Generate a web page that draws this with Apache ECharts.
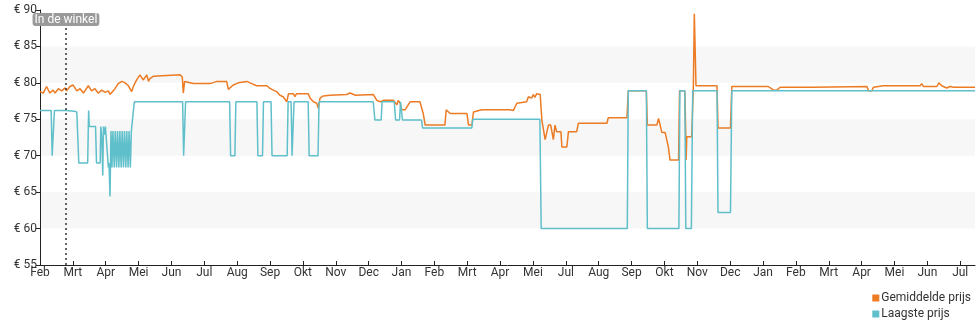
<!DOCTYPE html>
<html>
<head>
<meta charset="utf-8">
<script src="https://cdn.jsdelivr.net/npm/echarts@6/dist/echarts.min.js"></script>
<style>html,body{margin:0;padding:0;background:#fff}#c{width:980px;height:325px}</style>
</head>
<body>
<div id="c"></div>
<script>
// x values are in months counted from the first "Feb" tick
const monthLabels = ['Feb','Mrt','Apr','Mei','Jun','Jul','Aug','Sep','Okt','Nov','Dec','Jan','Feb','Mrt','Apr','Mei','Jul','Aug','Sep','Okt','Nov','Dec','Jan','Feb','Mrt','Apr','Mei','Jun','Jul'];
const yTicks = [55, 60, 65, 70, 75, 80, 85, 90];
const storeDate = 0.79;
const storeLabel = 'In de winkel';
const seriesNames = ['Gemiddelde prijs', 'Laagste prijs'];

const avgPrice = [
  [0,78.8],[0.05,78.8],[0.10,78.6],[0.20,79.5],[0.25,79.6],[0.30,78.6],[0.40,79.0],[0.46,78.6],[0.56,79.2],[0.66,78.9],
  [0.76,79.3],[0.81,78.9],[0.91,79.5],[1.01,79.7],[1.12,78.9],[1.22,79.2],[1.32,78.6],[1.47,79.6],[1.57,78.9],[1.67,79.2],
  [1.77,78.6],[1.88,79.0],[1.98,78.7],[2.08,78.9],[2.13,78.4],[2.23,78.9],[2.28,79.2],[2.38,79.9],[2.49,80.2],[2.59,80.0],
  [2.69,79.6],[2.79,78.8],[2.84,79.5],[2.94,80.4],[3.04,81.1],[3.14,80.4],[3.25,81.1],[3.30,80.2],[3.35,80.6],[3.45,80.9],
  [3.50,81.1],[4.26,81.1],[4.33,80.8],[4.36,78.6],[4.40,80.2],[4.46,80.2],[4.67,79.9],[5.17,79.9],[5.25,80.0],[5.38,80.2],
  [5.68,80.2],[5.73,79.1],[5.78,79.0],[5.88,79.7],[6.03,80.0],[6.29,80.2],[6.34,80.4],[6.44,79.9],[6.59,79.6],[6.90,79.6],
  [7.00,79.25],[7.10,79.0],[7.20,78.8],[7.30,78.3],[7.40,78.1],[7.51,77.4],[7.56,78.5],[7.71,78.5],[7.76,78.1],[7.80,78.5],
  [8.16,78.5],[8.22,77.9],[8.32,77.4],[8.42,77.2],[8.47,76.5],[8.52,77.9],[8.62,78.2],[8.83,78.3],[9.33,78.4],[9.43,78.6],
  [9.60,78.3],[10.14,78.4],[10.25,77.6],[10.35,77.4],[10.45,77.6],[10.75,77.6],[10.86,77.0],[10.90,77.6],[10.96,77.2],[11.01,76.3],
  [11.11,76.3],[11.16,76.5],[11.26,77.4],[11.56,77.4],[11.61,77.4],[11.66,75.8],[11.72,74.2],[12.32,74.2],[12.36,76.3],[12.48,75.8],
  [12.99,75.8],[13.04,74.2],[13.14,74.2],[13.19,76.0],[13.44,76.3],[14.30,76.3],[14.40,76.2],[14.45,76.0],[14.51,77.2],[14.81,77.4],
  [14.86,78.1],[14.91,78.3],[14.96,77.9],[15.01,78.4],[15.06,78.0],[15.11,78.5],[15.17,78.3],[15.22,78.4],[15.27,74.9],[15.37,72.2],
  [15.42,72.4],[15.47,74.2],[15.54,74.2],[15.62,72.2],[15.67,74.2],[15.72,73.3],[15.85,73.3],[15.88,71.2],[16.03,71.2],[16.08,73.3],
  [16.33,73.3],[16.38,74.45],[17.25,74.45],[17.29,75.2],[17.86,75.2],[17.90,78.9],[18.45,78.9],[18.48,74.2],[18.77,74.2],[18.82,75.1],
  [18.87,74.2],[18.92,73.2],[19.02,73.2],[19.07,72.2],[19.12,71.2],[19.17,69.4],[19.43,69.4],[19.46,78.9],[19.62,78.9],[19.65,72.6],
  [19.66,69.4],[19.68,72.6],[19.83,72.6],[19.88,79.6],[19.91,89.5],[19.96,79.6],[20.60,79.6],[20.63,73.8],[21.01,73.8],[21.05,79.5],
  [22.16,79.5],[22.32,79.0],[22.42,79.0],[22.52,79.4],[23.03,79.4],[23.08,79.3],[23.53,79.4],[23.58,79.5],[25.16,79.5],[25.21,78.9],
  [25.31,78.9],[25.36,79.4],[25.66,79.6],[26.78,79.6],[26.83,79.9],[26.88,79.5],[27.29,79.5],[27.35,80.0],[27.44,79.6],[27.59,79.3],
  [27.69,79.5],[27.80,79.4],[28.45,79.4]
];

const lowPrice = [
  [0,76.2],[0.34,76.2],[0.37,70.0],[0.41,70.0],[0.44,76.2],[0.80,76.2],[0.83,76.3],[1.05,76.1],[1.12,76.0],[1.18,69.0],
  [1.45,69.0],[1.48,76.2],[1.50,74.0],[1.69,74.0],[1.72,69.0],[1.83,69.0],[1.85,74.0],[1.88,72.4],[1.91,67.3],[1.93,74.0],
  [1.96,72.9],[1.99,74.0],[2.05,74.0],[2.08,68.4],[2.10,69.0],[2.13,64.4],[2.16,73.4],[2.19,68.4],[2.22,73.4],[2.26,68.4],
  [2.29,73.4],[2.33,68.4],[2.36,73.4],[2.40,68.4],[2.43,73.4],[2.47,68.4],[2.50,73.4],[2.54,68.4],[2.57,73.4],[2.61,68.4],
  [2.64,73.4],[2.68,68.4],[2.71,73.4],[2.75,68.4],[2.78,73.4],[2.82,73.4],[2.87,77.4],[4.34,77.4],[4.37,70.0],[4.40,70.0],
  [4.43,77.4],[5.77,77.4],[5.80,70.0],[5.93,70.0],[5.96,77.4],[6.60,77.4],[6.63,70.0],[6.77,70.0],[6.80,77.4],[7.03,77.4],
  [7.06,70.0],[7.52,70.0],[7.55,77.4],[7.64,77.4],[7.67,70.0],[7.70,70.0],[7.73,77.4],[8.16,77.4],[8.19,70.0],[8.46,70.0],
  [8.49,77.4],[10.14,77.4],[10.19,74.9],[10.38,74.9],[10.41,77.4],[10.78,77.4],[10.82,74.9],[10.94,74.9],[10.97,77.4],[11.0,77.4],
  [11.03,74.9],[11.61,74.9],[11.64,73.8],[13.14,73.8],[13.17,75.0],[15.21,75.0],[15.25,60.0],[17.87,60.0],[17.90,78.9],[18.45,78.9],
  [18.48,60.0],[19.44,60.0],[19.47,78.9],[19.62,78.9],[19.65,60.0],[19.82,60.0],[19.86,78.9],[20.60,78.9],[20.63,62.2],[21.01,62.2],
  [21.05,78.9],[28.45,78.9]
];

const chart = echarts.init(document.getElementById('c'), null, {renderer: 'canvas'});
const font = 'Roboto, "Noto Sans", sans-serif';
chart.setOption({
  animation: false,
  textStyle: {fontFamily: font},
  grid: {left: 40, right: 5, top: 10, bottom: 60, containLabel: false},
  legend: {
    orient: 'vertical', right: 4, top: 287, itemWidth: 7, itemHeight: 7, itemGap: 4,
    icon: 'rect', textStyle: {fontSize: 12, color: '#333', fontFamily: font, padding: [0,0,0,-3]},
    data: seriesNames
  },
  xAxis: {
    type: 'value', min: 0, max: 28.45, interval: 1,
    axisLine: {show: true, lineStyle: {color: '#222', width: 1}},
    axisTick: {show: true, inside: true, length: 4, lineStyle: {color: '#222'}},
    axisLabel: {color: '#333', fontSize: 12, margin: 2, showMaxLabel: false, fontFamily: font,
      formatter: v => monthLabels[Math.round(v)] || ''},
    splitLine: {show: false}
  },
  yAxis: {
    type: 'value', min: yTicks[0], max: yTicks[yTicks.length-1], interval: 5,
    axisLine: {show: true, lineStyle: {color: '#222', width: 1}},
    axisTick: {show: true, length: 4, lineStyle: {color: '#222'}},
    axisLabel: {color: '#333', fontSize: 12, margin: 3, fontFamily: font, formatter: v => '€ ' + v},
    splitLine: {show: false},
    splitArea: {show: true, areaStyle: {color: ['rgba(255,255,255,0)', '#f7f7f7']}}
  },
  series: [
    {
      name: seriesNames[0], type: 'line', data: avgPrice, showSymbol: false, symbol: 'none',
      lineStyle: {color: '#ec7b24', width: 1.5}, itemStyle: {color: '#ec7b24'},
      markLine: {
        symbol: 'none', silent: true,
        lineStyle: {color: '#333', type: [2, 3], width: 1.5},
        label: {show: true, position: 'end', distance: -16, formatter: storeLabel,
          color: '#fff', fontSize: 12, fontFamily: font, backgroundColor: '#9a9a9a',
          borderRadius: 3, padding: [1, 2, 0, 2]},
        data: [{xAxis: storeDate}]
      }
    },
    {
      name: seriesNames[1], type: 'line', data: lowPrice, showSymbol: false, symbol: 'none',
      lineStyle: {color: '#5fbfca', width: 1.5}, itemStyle: {color: '#5fbfca'}
    }
  ]
});
</script>
</body>
</html>
